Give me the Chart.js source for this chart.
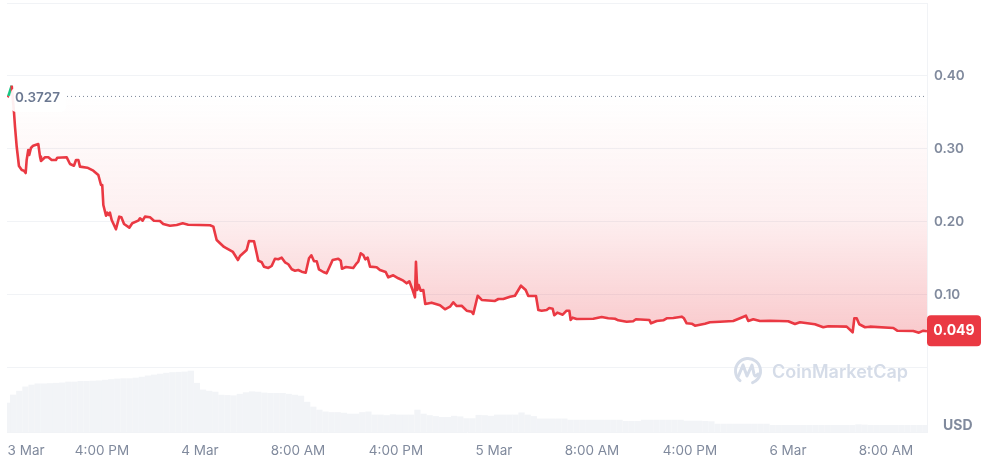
<!DOCTYPE html>
<html><head><meta charset="utf-8">
<style>html,body{margin:0;padding:0;background:#fff}canvas{display:block}</style>
<script src="https://cdn.jsdelivr.net/npm/chart.js@4/dist/chart.umd.min.js"></script>
</head><body><canvas id="c" width="985" height="466"></canvas>
<script>
// hours counted from 3 Mar 00:00
const priceHours = [8.28,8.36,8.63,8.82,8.90,9.04,9.22,9.45,9.63,9.77,9.85,9.98,10.06,10.20,10.38,10.80,10.94,11.02,11.35,11.62,11.89,12.24,12.35,13.12,13.39,13.71,13.88,14.07,14.20,14.80,15.29,15.70,15.92,16.02,16.11,16.33,16.43,16.55,16.65,16.79,17.14,17.41,17.58,17.80,18.23,18.47,18.96,19.10,19.32,19.51,19.92,20.24,20.73,21.00,21.55,22.10,22.59,23.04,24.82,25.09,25.36,25.96,26.69,27.10,27.27,27.81,28.00,28.41,28.63,28.76,29.04,29.22,29.58,29.85,30.12,30.39,30.67,30.94,31.21,31.49,31.76,32.02,32.30,32.63,32.90,33.09,33.31,33.53,33.71,34.07,34.34,34.83,35.29,35.49,35.59,35.92,36.51,36.79,36.92,37.12,37.33,37.49,37.69,37.88,38.42,38.69,39.16,39.37,39.78,40.19,40.60,40.87,41.09,41.36,41.55,41.63,41.74,41.85,42.02,42.23,42.39,42.91,43.59,44.00,44.41,44.68,44.96,45.36,45.77,46.18,46.31,46.67,47.00,48.08,48.36,48.76,49.31,49.71,50.20,50.59,50.80,51.43,51.62,51.89,52.30,52.51,52.79,52.92,53.17,53.61,53.93,54.15,54.26,54.42,54.75,56.11,56.79,57.33,57.88,58.15,58.83,59.36,59.59,60.68,60.82,61.28,61.82,62.10,62.64,63.32,63.51,63.73,64.14,64.41,65.22,65.63,66.45,67.53,68.08,68.57,68.76,69.17,69.71,70.53,72.02,72.57,72.98,74.20,74.88,75.29,76.79,77.28,77.42,77.61,77.82,78.29,78.69,80.60,80.92,82.23,82.69,83.05,83.35];
const priceValues = [.371,.3727,.3867,.3493,.3301,.3027,.2767,.2712,.2703,.2671,.2849,.2986,.2918,.3014,.3045,.3068,.2895,.2836,.2886,.2886,.2849,.2849,.2881,.2886,.2795,.2771,.2849,.2849,.2758,.2744,.2703,.2644,.2507,.2507,.2233,.2086,.2127,.2096,.2127,.2027,.1900,.2073,.2064,.1973,.1922,.1982,.2018,.2051,.2018,.2073,.2064,.2018,.2014,.1973,.1949,.1959,.1982,.1963,.1955,.1936,.1753,.1658,.1589,.1479,.1534,.1616,.1740,.1736,.1571,.1470,.1448,.1388,.1370,.1397,.1497,.1489,.1511,.1448,.1421,.1352,.1333,.1342,.1319,.1305,.1503,.1544,.1462,.1462,.1352,.1315,.1297,.1479,.1497,.1470,.1360,.1384,.1370,.1434,.1456,.1571,.1548,.1489,.1511,.1388,.1379,.1342,.1315,.1242,.1270,.1229,.1196,.1160,.1188,.1068,.0968,.1456,.1068,.1137,.1059,.1068,.0877,.0895,.0859,.0804,.0840,.0900,.0849,.0853,.0785,.0771,.0740,.0990,.0932,.0918,.0945,.0945,.0977,.0990,.1127,.1068,.0986,.0986,.0795,.0785,.0795,.0822,.0812,.0722,.0758,.0730,.0785,.0785,.0658,.0689,.0671,.0675,.0699,.0681,.0675,.0653,.0634,.0640,.0667,.0658,.0612,.0644,.0653,.0681,.0685,.0703,.0681,.0612,.0607,.0579,.0607,.0626,.0634,.0644,.0681,.0716,.0644,.0667,.0644,.0648,.0640,.0603,.0626,.0599,.0558,.0571,.0566,.0489,.0681,.0681,.0599,.0558,.0566,.0548,.0511,.0507,.0484,.0511,.0503];
// one volume bar per half hour, starting at hour 8.25
const volumeStartHour = 8.25;
const volumeStepHours = 0.5;
const volumeValues = [4.75,6.07,6.7,7.4,7.7,7.9,7.9,7.95,8.0,8.05,8.2,8.2,8.3,8.3,8.35,8.4,8.5,8.6,8.7,8.75,8.75,8.85,9.0,9.2,9.35,9.5,9.65,9.75,9.8,9.85,10.0,8.0,6.9,6.7,6.55,6.05,6.0,5.95,6.2,6.45,6.6,6.55,6.4,6.35,6.35,6.35,6.2,6.05,5.9,4.9,4.1,3.6,3.3,3.2,3.2,3.1,2.95,2.95,3.2,3.3,2.8,2.8,2.7,2.85,2.8,2.8,2.8,3.6,2.95,2.7,2.55,2.4,2.4,2.6,2.5,2.2,2.2,2.75,2.7,2.6,2.8,2.8,2.8,2.8,3.15,2.8,2.55,2.15,2.15,2.15,2.15,2.15,1.95,1.95,1.95,1.95,1.95,1.95,1.95,1.95,1.95,1.75,1.75,1.75,1.95,1.95,1.95,1.95,1.95,1.95,1.95,1.8,1.8,1.8,1.75,1.7,1.3,1.3,1.3,1.3,1.3,1.3,1.3,1.3,1.3,1.1,1.1,1.1,1.1,1.1,1.1,1.1,1.1,1.1,1.1,1.1,1.1,1.1,1.1,1.2,1.15,1.1,1.1,1.1,1.1,1.1,1.1,1.1,1.1,1.1,1.1];
const xTickHours = [9.8,16,24,32,40,48,56,64,72,80];
const xTickLabels = ['3 Mar','4:00 PM','4 Mar','8:00 AM','4:00 PM','5 Mar','8:00 AM','4:00 PM','6 Mar','8:00 AM'];
const yTickValues = [0,0.1,0.2,0.3,0.4,0.5];
const yTickLabels = ['','0.10','0.20','0.30','0.40',''];
const baselineValue = 0.3727;
const baselineLabel = '0.3727';
const lastLabel = '0.049';
const currencyLabel = 'USD';
const brandLabel = 'CoinMarketCap';

const RED = '#ea3943', GREEN = '#16c784', GRID = '#f1f3f6', TXT = '#808a9d';
const FONT = 'Inter, "Noto Sans", sans-serif';

const priceData = priceHours.map((h,i)=>({x:h,y:priceValues[i]}));
const volumeData = volumeValues.map((v,i)=>({x:volumeStartHour+i*volumeStepHours,y:v}));

const ctx = document.getElementById('c').getContext('2d');
const grad = ctx.createLinearGradient(0,96,0,335);
grad.addColorStop(0,'rgba(234,57,67,0)');
grad.addColorStop(0.5,'rgba(234,57,67,0.08)');
grad.addColorStop(1,'rgba(234,57,67,0.27)');

function roundRect(c,x,y,w,h,r){c.beginPath();c.roundRect(x,y,w,h,r);}
function noPad(s){s.paddingLeft=0;s.paddingRight=0;s.paddingTop=0;s.paddingBottom=0;}

const overlay = {
  id:'overlay',
  afterDatasetsDraw(chart){
    const c = chart.ctx, y = chart.scales.y, a = chart.chartArea;
    const by = y.getPixelForValue(baselineValue);
    c.save();
    // dotted baseline
    c.strokeStyle='#7d8799'; c.lineWidth=1; c.setLineDash([1,3]);
    c.beginPath(); c.moveTo(a.left+60,by+.5); c.lineTo(a.right,by+.5); c.stroke();
    c.setLineDash([]);
    // baseline label
    c.fillStyle='rgba(255,255,255,0.92)';
    roundRect(c,a.left+4,by-8,55,24,5); c.fill();
    c.fillStyle='#6b7891'; c.font='600 13.5px '+FONT; c.textBaseline='middle'; c.textAlign='left';
    c.fillText(baselineLabel,a.left+8,by+2.5);
    // watermark
    c.strokeStyle='#d5dce8'; c.lineWidth=3; c.lineCap='round'; c.lineJoin='round';
    c.beginPath(); c.arc(748,371,12.5,Math.PI*0.72,Math.PI*0.38,false); c.stroke();
    c.beginPath(); c.moveTo(738,377); c.lineTo(743,365); c.lineTo(747,376); c.lineTo(752,365); c.lineTo(754,374); c.quadraticCurveTo(755,378,758,374); c.stroke();
    c.fillStyle='#d5dce8'; c.font='600 18px '+FONT; c.textAlign='left';
    c.fillText(brandLabel,772,372.5);
    // last value box
    const ly = y.getPixelForValue(priceValues[priceValues.length-1]);
    c.fillStyle=RED; roundRect(c,a.right,ly-16,54,31,4); c.fill();
    c.fillStyle='#fff'; c.font='700 14px '+FONT; c.textAlign='center';
    c.fillText(lastLabel,a.right+27,ly);
    // currency
    c.fillStyle=TXT; c.font='700 14px '+FONT; c.textAlign='left';
    c.fillText(currencyLabel,943,426);
    c.restore();
  }
};

new Chart(ctx,{
  type:'bar',
  data:{datasets:[
    {type:'line',data:priceData,yAxisID:'y',order:1,borderColor:RED,borderWidth:2.6,pointRadius:0,tension:0,
     borderJoinStyle:'round',
     fill:{value:baselineValue,above:'rgba(22,199,132,0.12)',below:grad},
     segment:{borderColor:s=>s.p1.parsed.y>baselineValue?GREEN:RED}},
    {type:'bar',data:volumeData,yAxisID:'v',order:2,backgroundColor:'#f2f4f7',barThickness:5.6,borderWidth:0}
  ]},
  plugins:[overlay],
  options:{
    responsive:false,animation:false,
    layout:{padding:{left:7,top:3,right:0,bottom:0}},
    plugins:{legend:{display:false},tooltip:{enabled:false}},
    scales:{
      x:{type:'linear',min:8.245,max:83.35,offset:false,
        grid:{display:false},border:{display:true,color:GRID},
        afterBuildTicks:s=>{s.ticks=xTickHours.map(v=>({value:v}));},
        afterFit:s=>{s.height=34;noPad(s);},
        ticks:{autoSkip:false,maxRotation:0,padding:3,color:TXT,font:{family:FONT,size:13.5,weight:'400'},
          callback:(v)=>xTickLabels[xTickHours.indexOf(v)]}},
      y:{type:'linear',position:'right',min:-0.0877,max:0.5,
        grid:{color:GRID,drawTicks:false},border:{display:true,color:GRID},
        afterBuildTicks:s=>{s.ticks=yTickValues.map(v=>({value:v}));},
        afterFit:s=>{s.width=58;noPad(s);},
        ticks:{padding:7,color:TXT,font:{family:FONT,size:13.5,weight:'600'},
          callback:(v)=>yTickLabels[yTickValues.indexOf(v)]}},
      v:{type:'linear',display:false,min:0,max:70.33,afterFit:noPad}
    }
  }
});
</script></body></html>
